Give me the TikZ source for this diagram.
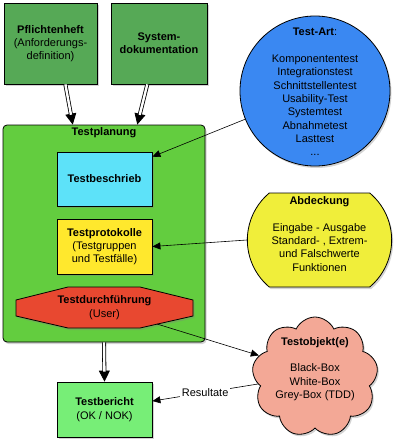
\documentclass[tikz,border=0pt]{standalone}
\usepackage{fontspec}
\setmainfont{Liberation Sans}
\usetikzlibrary{shapes,shapes.misc,shapes.symbols,arrows.meta,positioning,calc,shadows}

\definecolor{docgreen}{RGB}{86,169,86}
\definecolor{plangreen}{RGB}{99,205,63}
\definecolor{beschcyan}{RGB}{93,226,249}
\definecolor{protyellow}{RGB}{255,232,45}
\definecolor{durchred}{RGB}{232,72,48}
\definecolor{artblue}{RGB}{58,136,242}
\definecolor{abdyellow}{RGB}{240,238,58}
\definecolor{objsalmon}{RGB}{243,168,150}
\definecolor{berichtgreen}{RGB}{119,238,119}

\begin{document}
\begin{tikzpicture}[x=1pt,y=-1pt,font=\fontsize{11}{13.3}\selectfont]
% Styles
   \tikzstyle{shad} = [drop shadow={shadow xshift=1.5pt, shadow yshift=-2pt, opacity=0.35}]
   \tikzstyle{box} = [draw, shape=rectangle, line width=0.8pt, align=center, inner sep=0pt, shad]
   \tikzstyle{txt} = [align=center, inner sep=0pt]
   \tikzstyle{dblarrow} = [line width=0.8pt, -{Triangle[length=11pt,width=11pt]}, postaction={draw, -, double=white, double distance=2.4pt, shorten >=10pt}]
   \tikzstyle{arr} = [line width=0.6pt, -{Triangle[length=8pt,width=7pt]}]

\useasboundingbox (0,0) rectangle (400,448);

% Inputs
\node at (50.5,43.5) [box, fill=docgreen, minimum width=93, minimum height=81] (pflicht) {\textbf{Pflichtenheft}\\(Anforderungs-\\definition)};
\node at (159,43.5) [box, fill=docgreen, minimum width=96, minimum height=81] (system) {\textbf{System-}\\\textbf{dokumentation}};

% Testplanung
\node at (104,233.5) [box, rounded corners=4pt, fill=plangreen, minimum width=202, minimum height=217] (plan) {};
\node [below=0pt of plan.north, txt, inner sep=3pt] (plantitle) {\textbf{Testplanung}};
\node at (104.5,179) [box, fill=beschcyan, minimum width=95, minimum height=54] (beschrieb) {\textbf{Testbeschrieb}};
\node at (104.5,246.5) [box, fill=protyellow, minimum width=95, minimum height=55] (prot) {\textbf{Testprotokolle}\\(Testgruppen\\und Testfälle)};
\draw[fill=durchred, line width=0.8pt, shad] (68,287) -- (140,287) -- (193,300) -- (193,316) -- (140,328) -- (68,328) -- (16,316) -- (16,300) -- cycle;
\node at (104.5,307.5) [txt] (durch) {\textbf{Testdurchführung}\\(User)};
\coordinate (durchout) at (157,324);

% Right side
\node at (315,91) [circle, draw, line width=0.8pt, fill=artblue, minimum size=150, shad] (art) {};
\node at (315,92) [txt] (arttext) {\textbf{Test-Art}:\\[13.3pt]Komponententest\\Integrationstest\\Schnittstellentest\\Usability-Test\\Systemtest\\Abnahmetest\\Lasttest\\...};
\node at (319.5,240) [rounded rectangle, rounded rectangle arc length=100, draw, line width=0.8pt, fill=abdyellow, minimum width=151, minimum height=94, shad] (abd) {};
\node at (319.5,234) [txt] (abdtext) {\textbf{Abdeckung}\\[13.3pt]Eingabe - Ausgabe\\Standard- , Extrem-\\und Falschwerte\\Funktionen};
\node at (315,377) [cloud, cloud puffs=9, cloud puff arc=130, aspect=1.05, draw, line width=0.8pt, fill=objsalmon, minimum width=126, minimum height=120, shad] (obj) {};
\node at (315,369) [txt] (objtext) {\textbf{Testobjekt(e)}\\[13.3pt]Black-Box\\White-Box\\Grey-Box (TDD)};

% Result
\node at (104.5,409.5) [box, fill=berichtgreen, minimum width=95, minimum height=55] (bericht) {\textbf{Testbericht}\\(OK / NOK)};

% Connections
\draw[dblarrow] (pflicht.-70) -- (plan.106);
\draw[dblarrow] (system.-106) -- (plan.73);
\draw[dblarrow] (plan.south) -- (bericht.north);
\draw[arr] (art.202) -- (beschrieb.25);
\draw[arr] (abd.west) -- (prot.east);
\draw[arr] (durchout) -- (obj.159);
\draw[arr] (obj.187) -- node[fill=white, inner sep=2pt] (res) {Resultate} (bericht.10);
\end{tikzpicture}
\end{document}
